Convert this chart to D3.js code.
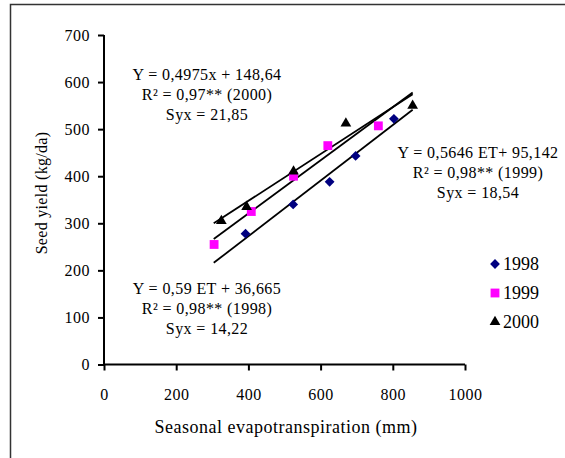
<!DOCTYPE html>
<html>
<head>
<meta charset="utf-8">
<script src="https://cdn.jsdelivr.net/npm/d3@7"></script>
<style>
  body { margin: 0; background: #fff; }
</style>
</head>
<body>
<svg id="chart" width="565" height="458" font-family="Liberation Serif, Times New Roman, serif"></svg>
<script>
// data
var years = ["1998", "1999", "2000"];
var et1998 = [392, 524, 625, 697, 803];
var yield1998 = [278, 340, 388, 443, 522];
var et1999 = [305, 408, 525, 620, 760];
var yield1999 = [255, 325, 400, 465, 507];
var et2000 = [325, 395, 525, 670, 855];
var yield2000 = [305, 335, 410, 512, 550];
// trendline coefficients (slope, intercept) as printed on the chart
var slopes = [0.59, 0.5646, 0.4975];
var intercepts = [36.665, 95.142, 148.64];
var fitRange = [304, 855];
var xTicks = [0, 200, 400, 600, 800, 1000];
var yTicks = [0, 100, 200, 300, 400, 500, 600, 700];
var eqLabels = [
  ["Y = 0,59 ET + 36,665", "R\u00b2 = 0,98** (1998)", "Syx = 14,22"],
  ["Y = 0,5646 ET+ 95,142", "R\u00b2 = 0,98** (1999)", "Syx = 18,54"],
  ["Y = 0,4975x + 148,64", "R\u00b2 = 0,97** (2000)", "Syx = 21,85"]
];

var svg = d3.select("#chart");
var serif = "Liberation Serif";

// frame (only left and top edges visible)
svg.append("path").attr("d", "M10.5,458 V4.5 H565").attr("fill", "none").attr("stroke", "#333").attr("stroke-width", 1.5);

var x = d3.scaleLinear().domain([0, 1000]).range([104, 465]);
var y = d3.scaleLinear().domain([0, 700]).range([364.5, 35]);

var xAxis = d3.axisBottom(x).tickValues(xTicks).tickSize(6).tickPadding(18).tickFormat(d3.format("d"));
var yAxis = d3.axisLeft(y).tickValues(yTicks).tickSize(6).tickPadding(8).tickFormat(d3.format("d"));

var gx = svg.append("g").attr("transform", "translate(0," + y(0) + ")").call(xAxis);
var gy = svg.append("g").attr("transform", "translate(" + x(0) + ",0)").call(yAxis);
[gx, gy].forEach(function(g) {
  g.attr("font-family", serif);
  g.selectAll("path, line").attr("stroke", "#000").attr("stroke-width", 2);
  g.selectAll("text").attr("font-size", 16).style("letter-spacing", "0.5px").attr("fill", "#000");
});
gx.selectAll(".domain").attr("d", "M" + x(0) + ",0H" + x(1000));
gy.selectAll(".domain").attr("d", "M0," + y(0) + "V" + y(700));

// axis titles
svg.append("text").attr("x", 286).attr("y", 433).attr("text-anchor", "middle")
  .attr("font-family", serif).attr("font-size", 18).style("letter-spacing", "0.5px")
  .text("Seasonal evapotranspiration (mm)");
svg.append("text").attr("transform", "translate(47,193) rotate(-90)").attr("text-anchor", "middle")
  .attr("font-family", serif).attr("font-size", 16).style("letter-spacing", "0.3px")
  .text("Seed yield (kg/da)");

// trendlines
slopes.forEach(function(s, i) {
  svg.append("line")
    .attr("x1", x(fitRange[0])).attr("y1", y(s * fitRange[0] + intercepts[i]))
    .attr("x2", x(fitRange[1])).attr("y2", y(s * fitRange[1] + intercepts[i]))
    .attr("stroke", "#000").attr("stroke-width", 1.8);
});

// markers: diamond is a square turned 45 degrees
var series = [
  {et: et1998, yl: yield1998, sym: d3.symbolSquare, size: 48, rot: 45, color: "#000080"},
  {et: et1999, yl: yield1999, sym: d3.symbolSquare, size: 78, rot: 0, color: "#ff00ff"},
  {et: et2000, yl: yield2000, sym: d3.symbolTriangle, size: 50, rot: 0, color: "#000"}
];
series.forEach(function(s) {
  svg.append("g").selectAll("path").data(s.et).enter().append("path")
    .attr("transform", function(d, i) { return "translate(" + x(d) + "," + y(s.yl[i]) + ") rotate(" + s.rot + ")"; })
    .attr("d", d3.symbol().type(s.sym).size(s.size))
    .attr("fill", s.color);
});

// equation annotations
var eqPos = [[207, 288], [478, 152], [207, 74]];
eqLabels.forEach(function(lines, i) {
  var t = svg.append("text").attr("text-anchor", "middle").attr("font-family", serif)
    .attr("font-size", 16).style("letter-spacing", "0.4px");
  lines.forEach(function(l, j) {
    t.append("tspan").attr("x", eqPos[i][0]).attr("y", eqPos[i][1] + j * 20).attr("dy", "0.35em").text(l);
  });
});

// legend
var leg = svg.append("g");
years.forEach(function(yr, i) {
  var cy = 264 + i * 29;
  leg.append("path").attr("transform", "translate(495," + cy + ") rotate(" + series[i].rot + ")")
    .attr("d", d3.symbol().type(series[i].sym).size(series[i].size)).attr("fill", series[i].color);
  leg.append("text").attr("x", 503).attr("y", cy).attr("dy", "0.35em")
    .attr("font-family", serif).attr("font-size", 18).text(yr);
});
</script>
</body>
</html>
